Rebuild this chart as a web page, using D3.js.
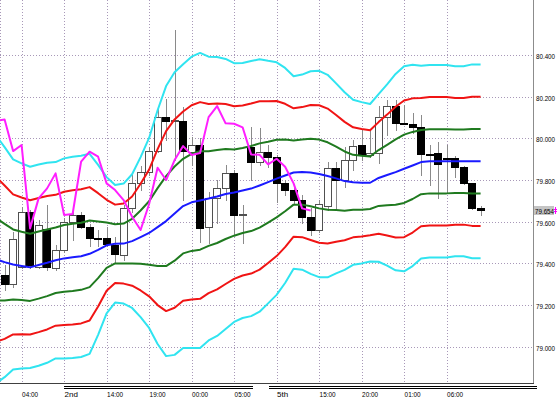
<!DOCTYPE html>
<html>
<head>
<meta charset="utf-8">
<script src="https://cdn.jsdelivr.net/npm/d3@7"></script>
<style>
body { margin: 0; background: #fff; }
svg { display: block; }
</style>
</head>
<body>
<div id="chart"></div>
<script>
var width = 559
var height = 398
var plotW = 533
var plotH = 383

// hourly candles, bar 0 = left edge
var open = [79.344, 79.301, 79.384, 79.648, 79.384, 79.565, 79.378, 79.464, 79.600, 79.632, 79.576, 79.520, 79.520, 79.488, 79.440, 79.664, 79.784, 79.840, 79.939, 80.104,
  80.085, 80.083, 79.936, 79.968, 79.573, 79.712, 79.760, 79.832, 79.632, 79.960, 79.888, 79.936, 79.912, 79.784, 79.752, 79.704, 79.624, 79.560, 79.675, 79.859,
  79.800, 79.896, 79.968, 79.920, 79.930, 80.102, 80.155, 80.072, 80.069, 80.053, 79.923, 79.928, 79.904, 79.907, 79.864, 79.784, 79.664]
var high = [79.392, 79.550, 79.670, 79.656, 79.608, 79.680, 79.488, 79.618, 79.646, 79.646, 79.589, 79.560, 79.574, 79.526, 79.680, 79.824, 79.867, 79.958, 80.155, 80.187,
  80.520, 80.150, 80.006, 80.002, 79.742, 79.800, 79.872, 79.848, 79.680, 80.053, 80.050, 79.968, 79.920, 79.800, 79.776, 79.728, 79.666, 79.704, 79.888, 79.888,
  79.958, 79.992, 80.040, 80.040, 80.155, 80.184, 80.184, 80.160, 80.122, 80.112, 79.968, 79.984, 79.968, 79.915, 79.867, 79.786, 79.675]
var low = [79.272, 79.286, 79.378, 79.378, 79.378, 79.368, 79.368, 79.454, 79.512, 79.570, 79.483, 79.483, 79.483, 79.406, 79.416, 79.646, 79.752, 79.824, 79.934, 79.992,
  79.896, 79.704, 79.872, 79.504, 79.498, 79.594, 79.704, 79.536, 79.498, 79.800, 79.872, 79.864, 79.696, 79.728, 79.690, 79.594, 79.536, 79.550, 79.656, 79.656,
  79.766, 79.848, 79.896, 79.910, 79.882, 80.016, 80.040, 80.069, 80.026, 79.824, 79.776, 79.714, 79.738, 79.816, 79.781, 79.661, 79.632]
var close = [79.301, 79.515, 79.648, 79.392, 79.584, 79.382, 79.464, 79.600, 79.632, 79.576, 79.520, 79.519, 79.491, 79.443, 79.664, 79.784, 79.840, 79.939, 80.104, 80.085,
  80.090, 79.939, 79.968, 79.568, 79.712, 79.760, 79.832, 79.632, 79.637, 79.888, 79.936, 79.912, 79.784, 79.752, 79.704, 79.624, 79.560, 79.685, 79.859, 79.800,
  79.896, 79.963, 79.920, 79.930, 80.102, 80.155, 80.072, 80.070, 80.053, 79.923, 79.921, 79.875, 79.902, 79.864, 79.784, 79.664, 79.654]

// bollinger middle line and deviation, first value is the bar just off the left edge (bar -1)
var bandMid = [79.419, 79.406, 79.395, 79.388, 79.381, 79.392, 79.403, 79.415, 79.424, 79.429, 79.434, 79.446, 79.465, 79.487, 79.494, 79.495, 79.507, 79.526, 79.546, 79.574,
  79.603, 79.639, 79.675, 79.693, 79.702, 79.711, 79.721, 79.733, 79.740, 79.750, 79.759, 79.774, 79.790, 79.807, 79.822, 79.836, 79.838, 79.836, 79.829, 79.819,
  79.808, 79.795, 79.789, 79.787, 79.787, 79.810, 79.824, 79.838, 79.854, 79.870, 79.886, 79.890, 79.890, 79.890, 79.890, 79.890, 79.890, 79.890]
var bandDev = [0.198, 0.184, 0.168, 0.164, 0.161, 0.161, 0.160, 0.157, 0.160, 0.161, 0.161, 0.160, 0.136, 0.109, 0.094, 0.096, 0.107, 0.128, 0.152, 0.187,
  0.216, 0.226, 0.227, 0.233, 0.236, 0.227, 0.223, 0.216, 0.207, 0.204, 0.204, 0.202, 0.194, 0.186, 0.172, 0.154, 0.156, 0.162, 0.165, 0.162,
  0.152, 0.142, 0.132, 0.129, 0.126, 0.134, 0.145, 0.157, 0.164, 0.161, 0.154, 0.154, 0.154, 0.154, 0.152, 0.152, 0.155, 0.155]
var bandLevels = [3, 2, 1, 0, -1, -2, -3]
var bandColors = ["#30e4f0", "#f01414", "#1f7a1f", "#1a1aff", "#1f7a1f", "#f01414", "#30e4f0"]

// lagging span: close plotted 20 bars back
var lagShift = 20

var priceTicks = [79.0, 79.2, 79.4, 79.6, 79.8, 80.0, 80.2, 80.4]
var timeTicks = [2, 7, 12, 17, 22, 27, 32, 37, 42, 47, 52]
var timeLabels = ["04:00", "2nd", "14:00", "19:00", "00:00", "05:00", "5th", "15:00", "20:00", "01:00", "06:00"]
var lastPrice = 79.654

var gridColor = "#a898b8"
var fontFamily = "'Liberation Sans', Arial, sans-serif"

var svg = d3.select("#chart")
  .append("svg")
  .attr("width", width)
  .attr("height", height)

svg.append("rect").attr("width", width).attr("height", height).attr("fill", "#fff")

svg.append("clipPath").attr("id", "plotclip")
  .append("rect").attr("x", 0).attr("y", 0).attr("width", plotW).attr("height", plotH)

var x = d3.scaleLinear().domain([-0.541, 62.165]).range([0, plotW])
var y = d3.scaleLinear().domain([78.826, 80.664]).range([plotH, 0])
var crisp = function (v) { return Math.round(v) + 0.5 }

// grid
svg.append("g").selectAll("line")
  .data(priceTicks)
  .join("line")
  .attr("x1", 0).attr("x2", plotW)
  .attr("y1", d => crisp(y(d))).attr("y2", d => crisp(y(d)))
  .attr("stroke", gridColor)
  .attr("stroke-dasharray", "1,2")

svg.append("g").selectAll("line")
  .data(timeTicks)
  .join("line")
  .attr("x1", d => crisp(x(d))).attr("x2", d => crisp(x(d)))
  .attr("y1", 0).attr("y2", plotH)
  .attr("stroke", gridColor)
  .attr("stroke-dasharray", "1,2")

svg.append("line")
  .attr("x1", 0.5).attr("x2", 0.5).attr("y1", 0).attr("y2", plotH)
  .attr("stroke", gridColor).attr("stroke-dasharray", "1,2")

var plot = svg.append("g").attr("clip-path", "url(#plotclip)")

// candles
var bars = d3.range(open.length)
var candle = plot.append("g").selectAll("g")
  .data(bars)
  .join("g")

candle.append("line")
  .attr("x1", i => crisp(x(i))).attr("x2", i => crisp(x(i)))
  .attr("y1", i => Math.round(y(high[i]))).attr("y2", i => Math.round(y(low[i])) + 1)
  .attr("stroke", "#8a8a8a")

candle.each(function (i) {
  var g = d3.select(this)
  var cx = Math.round(x(i))
  var top = Math.round(y(Math.max(open[i], close[i])))
  var bot = Math.round(y(Math.min(open[i], close[i])))
  if (bot - top < 1) {
    g.append("line")
      .attr("x1", cx - 4).attr("x2", cx + 4)
      .attr("y1", top + 0.5).attr("y2", top + 0.5)
      .attr("stroke", "#000")
  } else {
    var bull = close[i] > open[i]
    g.append("rect")
      .attr("x", cx - 3.5).attr("y", top + 0.5)
      .attr("width", 7).attr("height", bot - top)
      .attr("fill", bull ? "#fff" : "#000")
      .attr("stroke", bull ? "#505050" : "#000")
  }
})

// bollinger bands
var bandLine = d3.line()
  .x(d => x(d[0]))
  .y(d => y(d[1]))

bandLevels.forEach(function (k, n) {
  var pts = bandMid.map((m, j) => [j - 1, m + k * bandDev[j]])
  plot.append("path")
    .attr("d", bandLine(pts))
    .attr("fill", "none")
    .attr("stroke", bandColors[n])
    .attr("stroke-width", 2)
    .attr("stroke-linejoin", "round")
})

// lagging span
var lagPts = close.slice(lagShift - 1).map((c, j) => [j - 1, c])
plot.append("path")
  .attr("d", bandLine(lagPts))
  .attr("fill", "none")
  .attr("stroke", "#ff1eff")
  .attr("stroke-width", 2)
  .attr("stroke-linejoin", "round")

// frame
svg.append("line")
  .attr("x1", plotW + 0.5).attr("x2", plotW + 0.5).attr("y1", 0).attr("y2", plotH + 1)
  .attr("stroke", "#8c8c8c")
svg.append("line")
  .attr("x1", 0).attr("x2", plotW + 1).attr("y1", plotH + 0.5).attr("y2", plotH + 0.5)
  .attr("stroke", "#404040")

// price axis
var yAxis = d3.axisRight(y)
  .tickValues(priceTicks)
  .tickFormat(d3.format(".3f"))
  .tickSize(0)
  .tickPadding(3)

svg.append("g")
  .attr("transform", "translate(" + plotW + ",1)")
  .call(yAxis)
  .call(g => g.select(".domain").remove())
  .selectAll("text")
  .attr("font-family", fontFamily)
  .attr("font-size", 8)
  .attr("fill", "#000")
  .attr("textLength", 19)
  .attr("lengthAdjust", "spacingAndGlyphs")

// current price tag
var lastY = Math.round(y(lastPrice))
svg.append("rect")
  .attr("x", plotW + 1).attr("y", lastY - 4)
  .attr("width", 20).attr("height", 9)
  .attr("fill", "#c4c4c4")
svg.append("text")
  .attr("x", plotW + 2).attr("y", lastY + 3.5)
  .attr("font-family", fontFamily)
  .attr("font-size", 8)
  .attr("textLength", 19)
  .attr("lengthAdjust", "spacingAndGlyphs")
  .text(d3.format(".3f")(lastPrice))
svg.append("path")
  .attr("d", "M" + (plotW + 22.5) + "," + (lastY - 3) + "V" + (lastY + 4) +
    "M" + (plotW + 21) + "," + (lastY - 0.5) + "H" + (plotW + 24) +
    "M" + (plotW + 21) + "," + (lastY + 1.5) + "H" + (plotW + 24))
  .attr("stroke", "#ff00ff")
  .attr("fill", "none")

// time axis
var xAxis = d3.axisBottom(x)
  .tickValues(timeTicks)
  .tickFormat((d, i) => timeLabels[i])
  .tickSize(0)

svg.append("g")
  .attr("transform", "translate(0," + plotH + ")")
  .call(xAxis)
  .call(g => g.select(".domain").remove())
  .selectAll("text")
  .attr("font-family", fontFamily)
  .attr("font-size", 8)
  .attr("fill", "#000")
  .attr("text-anchor", "start")
  .attr("dy", null)
  .attr("y", 14)
  .attr("x", 0)
  .attr("textLength", d => timeLabels[timeTicks.indexOf(d)].length > 3 ? 16 : null)
  .attr("lengthAdjust", "spacingAndGlyphs")

// day separators under the axis
var daySpans = [[7, 29.2], [31.1, 62.6]]
daySpans.forEach(function (s) {
  [386.5, 388.5].forEach(function (yy) {
    svg.append("line")
      .attr("x1", Math.round(x(s[0]))).attr("x2", Math.round(x(s[1])))
      .attr("y1", yy).attr("y2", yy)
      .attr("stroke", "#000")
  })
})
</script>
</body>
</html>
